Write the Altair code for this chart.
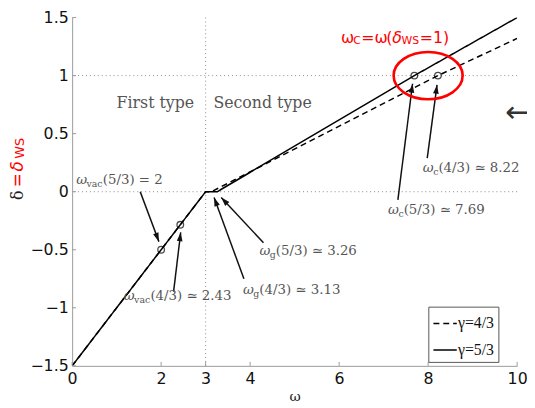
import altair as alt
import pandas as pd
import numpy as np

# ---------------- data ----------------
series = ["γ=4/3", "γ=5/3"]
omega_43 = [0, 3, 3.13, 8.22, 10]
delta_43 = [-1.5, 0, 0, 1, 1.32]
omega_53 = [0, 3, 3.26, 7.69, 10]
delta_53 = [-1.5, 0, 0, 1, 1.5]

pt_omega = [2.0, 2.43, 7.69, 8.22]
pt_delta = [-0.5, -0.285, 1.0, 1.0]

x_ticks = [0, 2, 3, 4, 6, 8, 10]
y_ticks = [-1.5, -1, -0.5, 0, 0.5, 1, 1.5]
dotted_y = [0, 1]
dotted_x = [3]

# arrows: tail (x0,y0) -> head (x1,y1), data coordinates
arr_x0 = [1.53, 2.28, 3.86, 4.30, 7.32, 7.98]
arr_y0 = [0.00, -0.86, -0.75, -0.44, -0.07, 0.29]
arr_x1 = [1.95, 2.44, 3.19, 3.35, 7.65, 8.20]
arr_y1 = [-0.43, -0.35, -0.05, -0.05, 0.93, 0.92]

# annotation labels (left anchor)
lab_x = [0.09, 1.16, 3.84, 4.21, 7.10, 7.88]
lab_y = [0.10, -0.90, -0.85, -0.51, -0.16, 0.20]
lab_sub = ["vac", "vac", "g", "g", "c", "c"]
lab_rest = ["(5/3) = 2", "(4/3) ≃ 2.43", "(4/3) ≃ 3.13",
            "(5/3) ≃ 3.26", "(5/3) ≃ 7.69", "(4/3) ≃ 8.22"]

type_text = ["First type", "Second type"]
type_x = [1.87, 4.28]
type_y = [0.76, 0.76]

ellipse_x = [8.0]
ellipse_y = [1.0]

red_title_x = [6.04]
red_title_y = [1.32]

long_arrow_x = [9.73]
long_arrow_y = [0.676]

# ---------------- layout ----------------
W, H = 451, 353
KX, KY = W / 10.0, H / 3.0
xs = alt.Scale(domain=[0, 10], nice=False, zero=False)
ys = alt.Scale(domain=[-1.5, 1.5], nice=False, zero=False)

SERIF = "DejaVu Serif"
SANS = "DejaVu Sans"
GRAY = "#555555"
RED = "#ff0000"

xaxis = alt.Axis(
    values=x_ticks, grid=False, ticks=False, domainColor="#9a9a9a",
    labelFont=SANS, labelFontSize=16, labelColor="#111", labelPadding=5,
    labelFlush=False, labelOverlap=False,
    title="ω", titleFont=SERIF, titleFontSize=14, titleFontWeight="normal",
    titleColor="#222", titlePadding=3)
yaxis = alt.Axis(
    values=y_ticks, format="~g", grid=False, ticks=False, domainColor="#9a9a9a",
    labelFont=SANS, labelFontSize=16, labelColor="#111", labelPadding=4,
    labelFlush=False, labelOverlap=False, title=None)

lines_df = pd.DataFrame({
    "w": omega_43 + omega_53,
    "d": delta_43 + delta_53,
    "g": [series[0]] * len(omega_43) + [series[1]] * len(omega_53),
})
pts_df = pd.DataFrame({"w": pt_omega, "d": pt_delta})

arr_df = pd.DataFrame({"x0": arr_x0, "y0": arr_y0, "x1": arr_x1, "y1": arr_y1})
arr_df["ang"] = (np.degrees(np.arctan2((arr_df.x1 - arr_df.x0) * KX,
                                       (arr_df.y1 - arr_df.y0) * KY)) + 360) % 360

lab_df = pd.DataFrame({"x": lab_x, "y": lab_y, "sub": lab_sub, "rest": lab_rest})


def X(f):
    return alt.X(f, type="quantitative", scale=xs, axis=xaxis)


def Y(f):
    return alt.Y(f, type="quantitative", scale=ys, axis=yaxis)


base = alt.Chart(lines_df).mark_line(strokeWidth=1.5, color="black", clip=True).encode(
    x=X("w"), y=Y("d"),
    strokeDash=alt.StrokeDash("g:N", scale=alt.Scale(domain=series, range=[[6, 4], [1, 0]]),
        legend=alt.Legend(title=None, orient="none", legendX=361, legendY=293,
                          fillColor="white", strokeColor="#555", padding=4,
                          labelFont="Liberation Serif", labelFontSize=16, labelColor="#111",
                          symbolType="stroke", symbolSize=560, symbolStrokeWidth=1.6,
                          symbolStrokeColor="black", labelOffset=0, rowPadding=6)),
    detail="g:N",
)

# inward ticks
xt_df = pd.DataFrame({"v": x_ticks})
yt_df = pd.DataFrame({"v": y_ticks})
xticks = alt.Chart(xt_df).mark_rule(color="#9a9a9a").encode(
    x=X("v"), y=alt.value(H), y2=alt.value(H - 4))
yticks = alt.Chart(yt_df).mark_rule(color="#9a9a9a").encode(
    y=Y("v"), x=alt.value(0), x2=alt.value(4))

dots_h = alt.Chart(pd.DataFrame({"v": dotted_y})).mark_rule(
    color="#8a8a8a", strokeDash=[1, 3], strokeWidth=1).encode(y=Y("v"))
dots_v = alt.Chart(pd.DataFrame({"v": dotted_x})).mark_rule(
    color="#8a8a8a", strokeDash=[1, 3], strokeWidth=1).encode(x=X("v"))

points = alt.Chart(pts_df).mark_point(shape="circle", filled=False, color="black",
                                      size=45, strokeWidth=1.3).encode(x=X("w"), y=Y("d"))

arrows = alt.Chart(arr_df).mark_rule(color="#111", strokeWidth=1.5).encode(
    x=X("x0"), y=Y("y0"), x2="x1:Q", y2="y1:Q")
heads = alt.Chart(arr_df).mark_point(shape="M0,0 L-0.32,1 L0.32,1 Z", filled=True,
                                     color="#111", size=324, opacity=1).encode(
    x=X("x1"), y=Y("y1"), angle=alt.Angle("ang:Q", scale=None))

ellipse = alt.Chart(pd.DataFrame({"x": ellipse_x, "y": ellipse_y})).mark_point(
    shape="M-1,0 A1,0.686 0 1,0 1,0 A1,0.686 0 1,0 -1,0 Z",
    filled=False, color=RED, strokeWidth=2.6, size=4900, opacity=1).encode(x=X("x"), y=Y("y"))


def tlayer(df, text, dx=0, dy=0, size=13.5, font=SERIF, color=GRAY,
           style="normal", align="left"):
    return alt.Chart(df).mark_text(align=align, baseline="middle", dx=dx, dy=dy,
                                   fontSize=size, font=font, color=color,
                                   fontStyle=style).encode(
        x=X("x"), y=Y("y"), text=alt.Text(text, type="nominal"))


SS = 9.5
lab_layers = [tlayer(lab_df.assign(om="ω"), "om", style="italic")]
sub_w = {"vac": 16.5, "g": 6.0, "c": 5.3}
for s, wdt in sub_w.items():
    sdf = lab_df[lab_df["sub"] == s]
    lab_layers.append(tlayer(sdf, "sub", dx=10.5, dy=4, size=SS))
    lab_layers.append(tlayer(sdf, "rest", dx=10.5 + wdt))

types = tlayer(pd.DataFrame({"x": type_x, "y": type_y, "t": type_text}), "t",
               size=16, align="center")

# red ω_C = ω(δ_WS = 1)
rt = pd.DataFrame({"x": red_title_x, "y": red_title_y})
red_parts = [("ω", 0, 0, 16, "normal"), ("C", 12.5, 3, 11, "normal"),
             ("=", 20.5, 0, 16, "normal"), ("ω", 34, 0, 16, "normal"),
             ("(", 46, 0, 16, "normal"), ("δ", 52, 0, 16, "italic"),
             ("WS", 61.5, 3, 11, "normal"), ("=1)", 80, 0, 16, "normal")]
red_layers = [tlayer(rt.assign(t=p[0]), "t", dx=p[1], dy=p[2], size=p[3], font=SANS,
                     color=RED, style=p[4]) for p in red_parts]

long_arrow = tlayer(pd.DataFrame({"x": long_arrow_x, "y": long_arrow_y, "t": ["⟵"]}), "t",
                    size=30, font=SANS, color="#333")


# y-axis title: δ = δ_WS (rotated)
def ytxt(t, px, py, size, font, color, style="normal"):
    return alt.Chart(pd.DataFrame({"t": [t]})).mark_text(
        align="left", baseline="middle", angle=270, fontSize=size, font=font,
        color=color, fontStyle=style).encode(
        x=alt.value(px), y=alt.value(py), text="t:N")


ytitle = [
    ytxt("δ", -55, 185, 16, SERIF, "#222"),
    ytxt("=", -55, 172, 17, SANS, RED),
    ytxt("δ", -55, 156, 17, SANS, RED, "italic"),
    ytxt("WS", -53, 143, 13, SANS, RED),
]

chart = alt.layer(
    dots_h, dots_v, base, xticks, yticks, points, arrows, heads, ellipse,
    *lab_layers, types, *red_layers, long_arrow, *ytitle,
).properties(
    width=W, height=H,
    padding={"left": 65, "top": 7, "right": 10, "bottom": 38},
    autosize="none", background="white",
).configure_view(stroke=None)

chart.save("out.html", embed_options={"renderer": "svg", "actions": False})
